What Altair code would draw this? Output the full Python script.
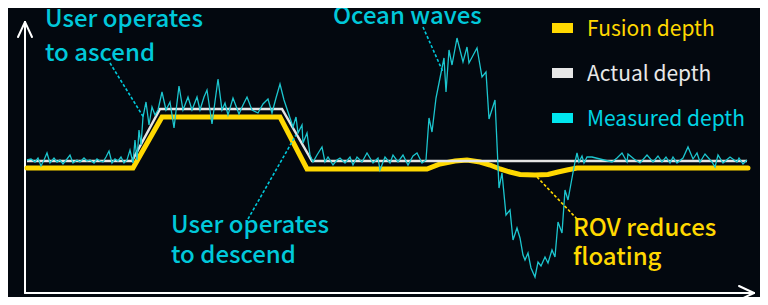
import altair as alt
import pandas as pd

BG = "#03080f"
YELLOW = "#ffd800"
WHITE = "#e4e4e4"
CYAN = "#1cc6cf"
CYAN_TXT = "#00c8da"
FONT = "Noto Sans CJK SC"

# ---- data (time on x, depth on y: larger value = deeper / lower on screen) ----
actual_t = [27, 132, 160, 282, 312, 747]
actual_d = [161, 161, 109, 109, 161, 161]

fusion_t = [27, 133, 162, 280, 307, 427, 440, 455, 467, 480, 490, 500, 510, 520,
            535, 548, 558, 567, 577, 748]
fusion_d = [168, 168, 117, 117, 169, 169, 164, 161, 160, 162, 165, 169, 172, 174.5,
            175, 174.5, 172, 170, 168, 168]

measured_t = [27, 31, 35, 38, 41, 44, 47, 50, 54, 57, 60, 63, 67, 70, 73, 77, 80, 84, 87, 90,
              94, 97, 100, 103, 106, 109, 112, 115, 118, 121, 124, 127, 130,
              133, 135, 137, 139, 141, 143, 146, 149, 152, 155, 158, 162, 166, 170, 174, 179,
              183, 188, 192, 197, 200, 204, 207, 212, 218, 222, 225, 228, 233, 239, 243, 247,
              252, 258, 263, 268, 272, 276, 280, 284, 288, 293, 296, 298, 302, 303, 307, 310,
              313, 317, 322, 325,
              328, 333, 337, 340, 345, 350, 353, 357, 362, 367, 373, 378, 380, 385, 390, 393,
              398, 403, 408, 413, 417, 422, 426,
              429, 432, 436, 441, 444, 446, 449, 452, 457, 463, 467, 469, 477, 482, 486, 489,
              495, 499, 502, 506, 510, 513, 517, 520, 523, 525, 528, 531, 535, 538, 541, 545,
              548, 552, 555, 558, 562, 565, 568, 572, 575, 577,
              579, 582, 584, 587, 592, 612, 617, 622, 627, 628, 634, 640, 647, 653, 658, 662,
              666, 670, 673, 677, 683, 688, 693, 697, 700, 705, 712, 715, 718, 723, 730, 737,
              739, 743, 747]
measured_d = [160, 159, 162, 158, 166, 160, 153, 163, 158, 162, 160, 164, 159, 155, 163, 160, 162, 158, 161, 160,
              163, 159, 161, 162, 157, 151, 163, 159, 161, 157, 163, 160, 150,
              163, 140, 160, 130, 145, 117, 102, 125, 107, 115, 110, 92, 110, 102, 128, 86,
              110, 97, 110, 97, 110, 97, 90, 124, 79, 110, 103, 115, 98, 114, 105, 97,
              110, 113, 104, 99, 113, 98, 84, 100, 112, 127, 117, 133, 125, 143, 133, 155,
              162, 155, 147, 162,
              157, 165, 160, 158, 163, 157, 165, 157, 162, 153, 163, 158, 170, 157, 163, 155,
              162, 155, 165, 156, 153, 163, 160,
              118, 132, 98, 73, 58, 92, 50, 65, 38, 62, 47, 63, 48, 77, 72, 119,
              100, 188, 173, 215, 210, 240, 228, 238, 255, 260, 253, 268, 277, 262, 266, 257,
              263, 250, 257, 222, 233, 190, 200, 178, 162, 153,
              162, 156, 163, 157, 157, 162, 158, 153, 162, 154, 159, 163, 155, 162, 156, 162,
              157, 163, 157, 163, 158, 147, 159, 153, 162, 154, 162, 167, 155, 163, 157, 162,
              158, 164, 160]

# axis arrows (segments)
axis_x = [25, 25, 25, 25, 754, 754]
axis_y = [293, 22, 22, 293, 293, 293]
axis_x2 = [25, 18, 32, 754, 739, 739]
axis_y2 = [22, 37, 37, 293, 286, 300]

# annotation leader lines
lead_x = [110, 423, 248, 537]
lead_y = [63, 27, 219, 177]
lead_x2 = [144, 443, 296, 578]
lead_y2 = [118, 72, 135, 220]
lead_c = [CYAN_TXT, CYAN_TXT, CYAN_TXT, YELLOW]

# annotation texts
ann_text = ["User operates", "to ascend", "Ocean waves", "User operates", "to descend",
            "ROV reduces", "floating"]
ann_x = [45, 45, 333, 171, 171, 573, 573]
ann_y = [27, 61, 24, 233, 263, 236, 265]
ann_c = [CYAN_TXT, CYAN_TXT, CYAN_TXT, CYAN_TXT, CYAN_TXT, YELLOW, YELLOW]

# legend
leg_names = ["Fusion depth", "Actual depth", "Measured depth"]
leg_sw = [YELLOW, "#e6e6e6", "#00e6ee"]
leg_txt = [YELLOW, "#e8e8e8", "#00d4e4"]
leg_y = [28, 73, 118]

xs = alt.Scale(domain=[25, 755], nice=False, zero=False)
ys = alt.Scale(domain=[18, 293], reverse=True, nice=False, zero=False)


def X(f):
    return alt.X(f, type="quantitative", scale=xs, axis=None)


def Y(f):
    return alt.Y(f, type="quantitative", scale=ys, axis=None)


df_a = pd.DataFrame({"t": actual_t, "d": actual_d})
df_f = pd.DataFrame({"t": fusion_t, "d": fusion_d})
df_m = pd.DataFrame({"t": measured_t, "d": measured_d})
df_ax = pd.DataFrame({"x": axis_x, "y": axis_y, "x2": axis_x2, "y2": axis_y2})
df_ld = pd.DataFrame({"x": lead_x, "y": lead_y, "x2": lead_x2, "y2": lead_y2, "c": lead_c})
df_an = pd.DataFrame({"x": ann_x, "y": ann_y, "t": ann_text, "c": ann_c})
df_lg = pd.DataFrame({"n": leg_names, "sw": leg_sw, "tc": leg_txt, "y": leg_y,
                      "x0": [552] * 3, "x1": [573] * 3, "xt": [587] * 3})

axes = alt.Chart(df_ax).mark_rule(color="#ffffff", strokeWidth=2, strokeCap="round").encode(
    x=X("x"), y=Y("y"), x2="x2", y2="y2")

fusion = alt.Chart(df_f).mark_line(color=YELLOW, strokeWidth=5, strokeCap="round").encode(
    x=X("t"), y=Y("d"), order="t:Q")
actual = alt.Chart(df_a).mark_line(color=WHITE, strokeWidth=2.5).encode(
    x=X("t"), y=Y("d"), order="t:Q")
measured = alt.Chart(df_m).mark_line(color=CYAN, strokeWidth=1.3).encode(
    x=X("t"), y=Y("d"), order="t:Q")

leads = alt.Chart(df_ld).mark_rule(strokeWidth=1.6, strokeDash=[3, 2]).encode(
    x=X("x"), y=Y("y"), x2="x2", y2="y2", color=alt.Color("c:N", scale=None))

ann = alt.Chart(df_an).mark_text(align="left", baseline="alphabetic", font=FONT,
                                 fontSize=24, fontWeight=500).encode(
    x=X("x"), y=Y("y"), text="t:N", color=alt.Color("c:N", scale=None))

leg_sw_layer = alt.Chart(df_lg).mark_rect(height=10).encode(
    x=X("x0"), x2="x1", y=Y("y"), color=alt.Color("sw:N", scale=None))
leg_tx_layer = alt.Chart(df_lg).mark_text(align="left", baseline="middle", font=FONT,
                                          fontSize=21, dy=2).encode(
    x=X("xt"), y=Y("y"), text="n:N", color=alt.Color("tc:N", scale=None))

chart = alt.layer(axes, fusion, actual, measured, leads, ann, leg_sw_layer, leg_tx_layer).properties(
    width=730, height=275, background=BG,
    padding={"left": 17, "top": 10, "right": 5, "bottom": 4},
    autosize=alt.AutoSizeParams(type="none"),
).configure_view(stroke=None)

chart.save("out.html", embed_options={"renderer": "svg", "actions": False})
